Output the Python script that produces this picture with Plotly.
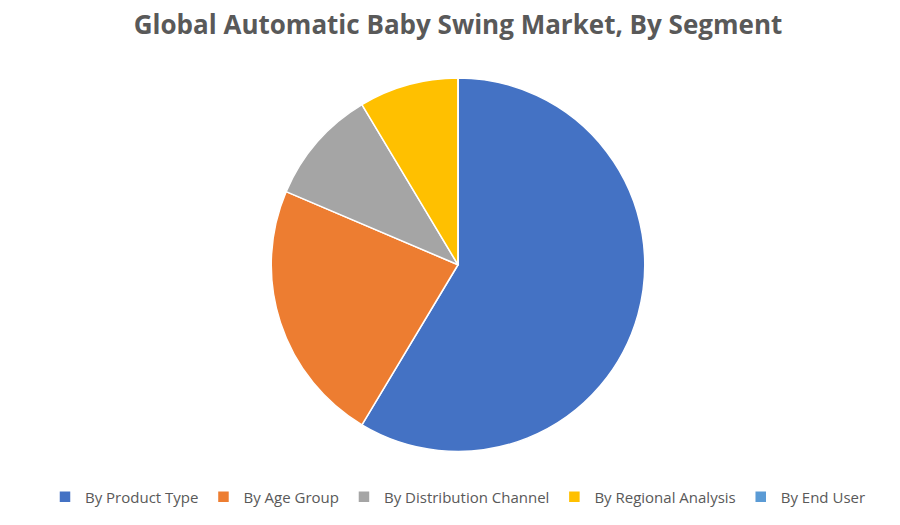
import plotly.graph_objects as go

segments = ["By Product Type", "By Age Group", "By Distribution Channel",
            "By Regional Analysis", "By End User"]
shares = [58.6, 22.8, 10.0, 8.6, 0.0]
colors = ["#4472C4", "#ED7D31", "#A5A5A5", "#FFC000", "#5B9BD5"]

fig = go.Figure(go.Pie(
    labels=segments, values=shares, sort=False, direction="clockwise",
    rotation=0, textinfo="none", hoverinfo="label+percent",
    marker=dict(colors=colors, line=dict(color="white", width=1.5)),
    domain=dict(x=[0.1, 0.9], y=[0.1, 1.0]),
))

fig.update_layout(
    width=900, height=525,
    paper_bgcolor="white", plot_bgcolor="white",
    title=dict(text="<b>Global Automatic Baby Swing Market, By Segment</b>",
               x=0.5, y=0.985, yanchor="top", xanchor="center",
               font=dict(family="Open Sans", size=26, color="#595959")),
    legend=dict(orientation="h", x=0.5, xanchor="center", y=0.03, yanchor="top",
                font=dict(family="Open Sans", size=15, color="#595959")),
    margin=dict(l=20, r=20, t=70, b=40),
)

fig.write_html("out.html")
